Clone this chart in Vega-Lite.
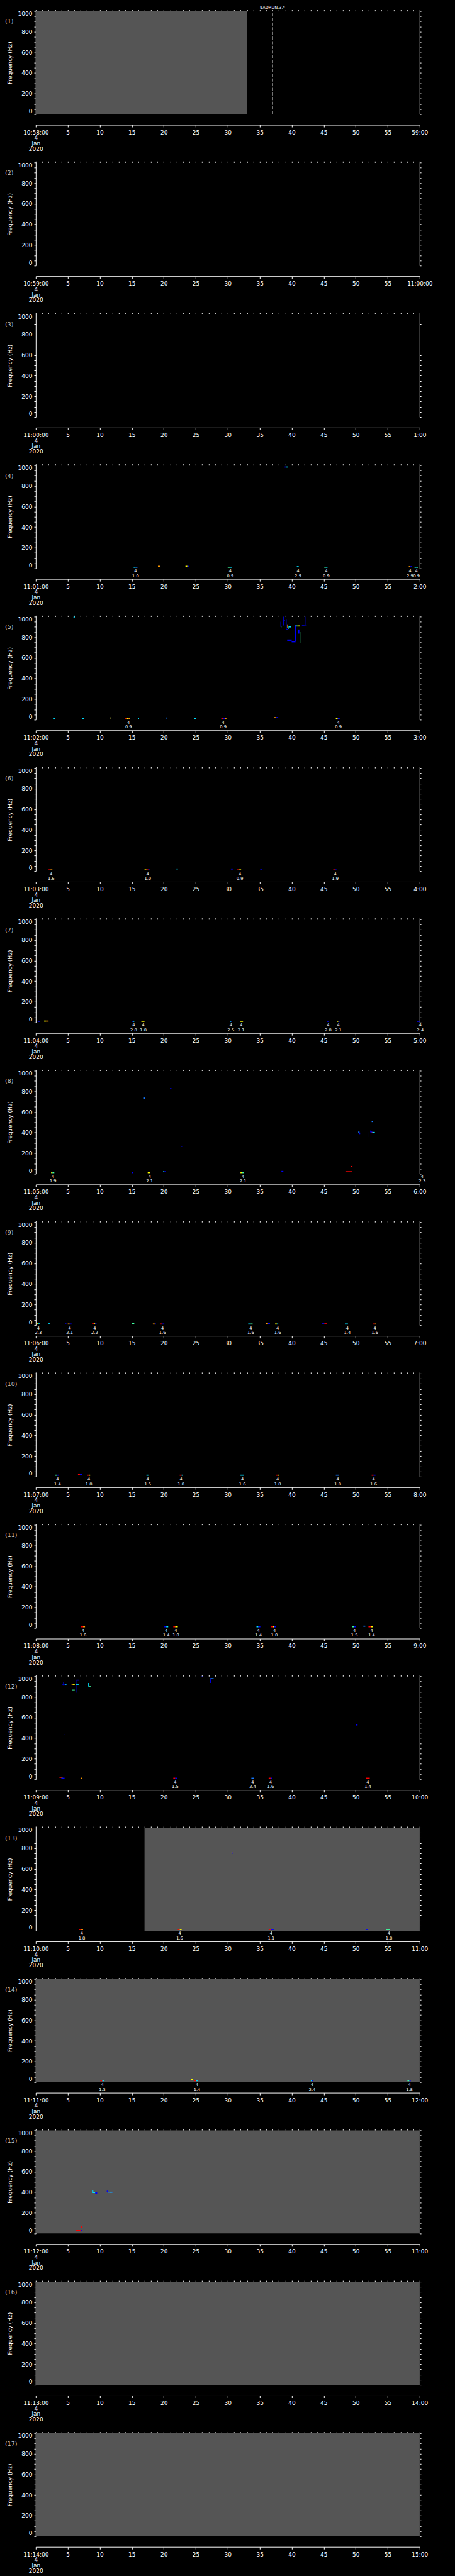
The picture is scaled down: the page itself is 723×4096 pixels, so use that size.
{
"$schema": "https://vega.github.io/schema/vega-lite/v6.json",
"background": "black",
"padding": {"left": 7.8, "top": 8.6, "right": 40, "bottom": 10},
"bounds": "flush",
"spacing": 76.7,
"config": {
 "view": {"stroke": null},
 "axis": {"grid": false, "domainColor": "white", "tickColor": "white", "labelColor": "white", "titleColor": "white", "labelFont": "DejaVu Sans", "titleFont": "DejaVu Sans", "labelFontSize": 9, "titleFontSize": 9, "titleFontWeight": "normal", "labelOverlap": false, "labelBound": false, "domainWidth": 1, "tickWidth": 1},
 "axisBottom": {"offset": 17, "tickSize": 3.5, "labelPadding": 4, "labelLineHeight": 8.7, "labelFlush": false},
 "axisLeft": {"tickSize": 2.8, "labelPadding": 3, "labelFlush": true, "titleX": -36, "titleY": 82, "titleAngle": 270, "titleBaseline": "bottom", "titleAlign": "center"},
 "axisRight": {"tickSize": 2.3, "labels": false},
 "text": {"font": "DejaVu Sans", "color": "white"}
},
"datasets": {
 "panels": [
  {"p": 1, "label": "(1)"}, {"p": 2, "label": "(2)"}, {"p": 3, "label": "(3)"}, {"p": 4, "label": "(4)"}, {"p": 5, "label": "(5)"}, {"p": 6, "label": "(6)"}, {"p": 7, "label": "(7)"}, {"p": 8, "label": "(8)"}, {"p": 9, "label": "(9)"}, {"p": 10, "label": "(10)"}, {"p": 11, "label": "(11)"}, {"p": 12, "label": "(12)"}, {"p": 13, "label": "(13)"}, {"p": 14, "label": "(14)"}, {"p": 15, "label": "(15)"}, {"p": 16, "label": "(16)"}, {"p": 17, "label": "(17)"}
 ],
 "gray": [
  {"p": 1, "t0": 0, "t1": 33, "f0": 0, "f1": 1000},
  {"p": 13, "t0": 17, "t1": 60, "f0": 0, "f1": 1000},
  {"p": 14, "t0": 0, "t1": 60, "f0": 0, "f1": 1000},
  {"p": 15, "t0": 0, "t1": 60, "f0": 0, "f1": 1000},
  {"p": 16, "t0": 0, "t1": 60, "f0": 0, "f1": 1000},
  {"p": 17, "t0": 0, "t1": 60, "f0": 0, "f1": 1000}
 ],
 "markers": [{"p": 1, "t": 37, "label": "$ADRUN,3,*"}],
 "events": [
  {"p": 4, "t": 15.6, "n": "4", "v": "1.0"}, {"p": 4, "t": 30.4, "n": "4", "v": "0.9"}, {"p": 4, "t": 41.0, "n": "4", "v": "2.9"}, {"p": 4, "t": 45.4, "n": "4", "v": "0.9"}, {"p": 4, "t": 58.5, "n": "4", "v": "2.9"}, {"p": 4, "t": 59.5, "n": "4", "v": "0.9"},
  {"p": 5, "t": 14.5, "n": "4", "v": "0.9"}, {"p": 5, "t": 29.3, "n": "4", "v": "0.9"}, {"p": 5, "t": 47.3, "n": "4", "v": "0.9"},
  {"p": 6, "t": 2.4, "n": "4", "v": "1.6"}, {"p": 6, "t": 17.5, "n": "4", "v": "1.0"}, {"p": 6, "t": 31.9, "n": "4", "v": "0.9"}, {"p": 6, "t": 46.8, "n": "4", "v": "1.9"},
  {"p": 7, "t": 15.3, "n": "4", "v": "2.8"}, {"p": 7, "t": 16.8, "n": "4", "v": "1.8"}, {"p": 7, "t": 30.5, "n": "4", "v": "2.5"}, {"p": 7, "t": 32.1, "n": "4", "v": "2.1"}, {"p": 7, "t": 45.7, "n": "4", "v": "2.8"}, {"p": 7, "t": 47.3, "n": "4", "v": "2.1"}, {"p": 7, "t": 60.1, "n": "4", "v": "2.4"},
  {"p": 8, "t": 2.7, "n": "4", "v": "1.9"}, {"p": 8, "t": 17.8, "n": "4", "v": "2.1"}, {"p": 8, "t": 32.4, "n": "4", "v": "2.1"}, {"p": 8, "t": 60.4, "n": "4", "v": "2.3"},
  {"p": 9, "t": 0.4, "n": "4", "v": "2.3"}, {"p": 9, "t": 5.3, "n": "4", "v": "2.1"}, {"p": 9, "t": 9.2, "n": "4", "v": "2.2"}, {"p": 9, "t": 19.8, "n": "4", "v": "1.6"}, {"p": 9, "t": 33.6, "n": "4", "v": "1.6"}, {"p": 9, "t": 37.8, "n": "4", "v": "1.6"}, {"p": 9, "t": 48.7, "n": "4", "v": "1.4"}, {"p": 9, "t": 53.0, "n": "4", "v": "1.6"},
  {"p": 10, "t": 3.4, "n": "4", "v": "1.4"}, {"p": 10, "t": 8.3, "n": "4", "v": "1.8"}, {"p": 10, "t": 17.5, "n": "4", "v": "1.5"}, {"p": 10, "t": 22.7, "n": "4", "v": "1.8"}, {"p": 10, "t": 32.3, "n": "4", "v": "1.6"}, {"p": 10, "t": 37.8, "n": "4", "v": "1.8"}, {"p": 10, "t": 47.2, "n": "4", "v": "1.8"}, {"p": 10, "t": 52.8, "n": "4", "v": "1.6"},
  {"p": 11, "t": 7.4, "n": "4", "v": "1.6"}, {"p": 11, "t": 20.4, "n": "4", "v": "1.4"}, {"p": 11, "t": 21.9, "n": "4", "v": "1.0"}, {"p": 11, "t": 34.8, "n": "4", "v": "1.4"}, {"p": 11, "t": 37.3, "n": "4", "v": "1.0"}, {"p": 11, "t": 49.8, "n": "4", "v": "1.5"}, {"p": 11, "t": 52.5, "n": "4", "v": "1.4"},
  {"p": 12, "t": 21.8, "n": "4", "v": "1.5"}, {"p": 12, "t": 33.9, "n": "4", "v": "2.4"}, {"p": 12, "t": 36.7, "n": "4", "v": "1.6"}, {"p": 12, "t": 51.9, "n": "4", "v": "1.4"},
  {"p": 13, "t": 7.2, "n": "4", "v": "1.8"}, {"p": 13, "t": 22.5, "n": "4", "v": "1.6"}, {"p": 13, "t": 36.8, "n": "4", "v": "1.1"}, {"p": 13, "t": 55.2, "n": "4", "v": "1.8"},
  {"p": 14, "t": 10.4, "n": "4", "v": "1.3"}, {"p": 14, "t": 25.2, "n": "4", "v": "1.4"}, {"p": 14, "t": 43.2, "n": "4", "v": "2.4"}, {"p": 14, "t": 58.4, "n": "4", "v": "1.8"}
 ],
 "blips": [
  {"p":4,"t0":15.3,"t1":15.6,"f0":6,"f1":16,"c":"c"},{"p":4,"t0":15.6,"t1":15.9,"f0":6,"f1":16,"c":"a"},
  {"p":4,"t0":19.1,"t1":19.4,"f0":15,"f1":25,"c":"o"},
  {"p":4,"t0":23.4,"t1":23.7,"f0":15,"f1":25,"c":"y"},{"p":4,"t0":23.7,"t1":23.9,"f0":15,"f1":25,"c":"b"},
  {"p":4,"t0":30.0,"t1":30.35,"f0":6,"f1":16,"c":"g"},{"p":4,"t0":30.35,"t1":30.7,"f0":6,"f1":16,"c":"c"},
  {"p":4,"t0":38.9,"t1":39.1,"f0":978,"f1":988,"c":"b"},{"p":4,"t0":39.1,"t1":39.4,"f0":978,"f1":988,"c":"c"},
  {"p":4,"t0":40.8,"t1":41.1,"f0":11,"f1":21,"c":"c"},
  {"p":4,"t0":45.1,"t1":45.35,"f0":6,"f1":16,"c":"g"},{"p":4,"t0":45.35,"t1":45.6,"f0":6,"f1":16,"c":"c"},
  {"p":4,"t0":58.3,"t1":58.55,"f0":11,"f1":21,"c":"o"},{"p":4,"t0":58.55,"t1":58.8,"f0":11,"f1":21,"c":"b"},
  {"p":4,"t0":59.2,"t1":59.5,"f0":6,"f1":16,"c":"c"},{"p":4,"t0":59.5,"t1":59.8,"f0":6,"f1":16,"c":"g"},

  {"p":5,"t0":5.9,"t1":6.1,"f0":990,"f1":1000,"c":"c"},
  {"p":5,"t0":2.8,"t1":3.0,"f0":6,"f1":16,"c":"c"},
  {"p":5,"t0":7.3,"t1":7.5,"f0":6,"f1":16,"c":"c"},
  {"p":5,"t0":11.6,"t1":11.7,"f0":11,"f1":21,"c":"y"},{"p":5,"t0":11.7,"t1":11.8,"f0":11,"f1":21,"c":"b"},
  {"p":5,"t0":14.0,"t1":14.25,"f0":6,"f1":16,"c":"r"},{"p":5,"t0":14.25,"t1":14.5,"f0":6,"f1":16,"c":"y"},{"p":5,"t0":14.5,"t1":14.7,"f0":6,"f1":16,"c":"o"},
  {"p":5,"t0":16.0,"t1":16.15,"f0":6,"f1":16,"c":"c"},
  {"p":5,"t0":20.3,"t1":20.5,"f0":11,"f1":21,"c":"a"},
  {"p":5,"t0":24.8,"t1":25.05,"f0":6,"f1":16,"c":"c"},
  {"p":5,"t0":29.0,"t1":29.3,"f0":6,"f1":16,"c":"r"},{"p":5,"t0":29.3,"t1":29.55,"f0":6,"f1":16,"c":"b"},{"p":5,"t0":29.55,"t1":29.8,"f0":6,"f1":16,"c":"o"},
  {"p":5,"t0":37.3,"t1":37.6,"f0":15,"f1":25,"c":"o"},{"p":5,"t0":37.6,"t1":37.9,"f0":15,"f1":25,"c":"b"},
  {"p":5,"t0":46.9,"t1":47.2,"f0":6,"f1":16,"c":"y"},{"p":5,"t0":47.2,"t1":47.5,"f0":6,"f1":16,"c":"b"},
  {"p":5,"t0":38.25,"t1":38.35,"f0":900,"f1":950,"c":"b"},
  {"p":5,"t0":38.3,"t1":38.4,"f0":895,"f1":910,"c":"g"},
  {"p":5,"t0":38.7,"t1":38.8,"f0":914,"f1":1000,"c":"b"},
  {"p":5,"t0":38.8,"t1":38.95,"f0":955,"f1":965,"c":"b"},
  {"p":5,"t0":39.1,"t1":39.2,"f0":870,"f1":970,"c":"b"},
  {"p":5,"t0":39.2,"t1":39.35,"f0":870,"f1":880,"c":"b"},
  {"p":5,"t0":39.3,"t1":39.42,"f0":890,"f1":925,"c":"o"},
  {"p":5,"t0":39.5,"t1":39.6,"f0":880,"f1":910,"c":"c"},
  {"p":5,"t0":39.6,"t1":39.9,"f0":895,"f1":905,"c":"c"},
  {"p":5,"t0":39.3,"t1":40.0,"f0":765,"f1":778,"c":"b"},
  {"p":5,"t0":40.0,"t1":40.6,"f0":750,"f1":760,"c":"b"},
  {"p":5,"t0":40.55,"t1":40.65,"f0":760,"f1":920,"c":"b"},
  {"p":5,"t0":40.6,"t1":40.9,"f0":904,"f1":914,"c":"g"},
  {"p":5,"t0":40.9,"t1":41.3,"f0":904,"f1":914,"c":"y"},
  {"p":5,"t0":41.0,"t1":41.2,"f0":835,"f1":875,"c":"b"},
  {"p":5,"t0":41.25,"t1":41.35,"f0":746,"f1":850,"c":"g"},
  {"p":5,"t0":41.6,"t1":42.0,"f0":905,"f1":915,"c":"b"},
  {"p":5,"t0":42.05,"t1":42.15,"f0":905,"f1":1000,"c":"b"},
  {"p":5,"t0":42.1,"t1":42.4,"f0":905,"f1":912,"c":"b"},

  {"p":6,"t0":2.0,"t1":2.3,"f0":6,"f1":16,"c":"r"},{"p":6,"t0":2.3,"t1":2.6,"f0":6,"f1":16,"c":"o"},
  {"p":6,"t0":17.0,"t1":17.3,"f0":6,"f1":16,"c":"y"},{"p":6,"t0":17.3,"t1":17.6,"f0":6,"f1":16,"c":"r"},{"p":6,"t0":17.6,"t1":17.8,"f0":6,"f1":16,"c":"b"},
  {"p":6,"t0":22.0,"t1":22.2,"f0":15,"f1":25,"c":"c"},
  {"p":6,"t0":30.5,"t1":30.8,"f0":15,"f1":25,"c":"b"},
  {"p":6,"t0":31.5,"t1":31.8,"f0":6,"f1":16,"c":"r"},{"p":6,"t0":31.8,"t1":32.1,"f0":6,"f1":16,"c":"y"},
  {"p":6,"t0":35.1,"t1":35.3,"f0":10,"f1":20,"c":"b"},
  {"p":6,"t0":46.5,"t1":46.75,"f0":6,"f1":16,"c":"r"},{"p":6,"t0":46.75,"t1":47.0,"f0":6,"f1":16,"c":"b"},

  {"p":7,"t0":0.3,"t1":0.6,"f0":6,"f1":16,"c":"b"},
  {"p":7,"t0":1.3,"t1":1.6,"f0":8,"f1":18,"c":"y"},{"p":7,"t0":1.6,"t1":2.0,"f0":8,"f1":18,"c":"o"},
  {"p":7,"t0":15.0,"t1":15.2,"f0":6,"f1":16,"c":"b"},{"p":7,"t0":15.2,"t1":15.4,"f0":6,"f1":16,"c":"c"},
  {"p":7,"t0":16.5,"t1":17.0,"f0":6,"f1":16,"c":"y"},
  {"p":7,"t0":30.4,"t1":30.55,"f0":6,"f1":16,"c":"c"},{"p":7,"t0":30.55,"t1":30.7,"f0":6,"f1":16,"c":"b"},
  {"p":7,"t0":31.9,"t1":32.4,"f0":6,"f1":16,"c":"y"},
  {"p":7,"t0":45.5,"t1":45.8,"f0":6,"f1":16,"c":"b"},
  {"p":7,"t0":47.1,"t1":47.3,"f0":6,"f1":16,"c":"y"},{"p":7,"t0":47.3,"t1":47.5,"f0":6,"f1":16,"c":"b"},
  {"p":7,"t0":59.6,"t1":60,"f0":6,"f1":16,"c":"b"},

  {"p":8,"t0":2.4,"t1":2.6,"f0":6,"f1":16,"c":"y"},{"p":8,"t0":2.6,"t1":2.9,"f0":6,"f1":16,"c":"g"},
  {"p":8,"t0":15.0,"t1":15.2,"f0":6,"f1":16,"c":"b"},
  {"p":8,"t0":16.9,"t1":17.1,"f0":725,"f1":740,"c":"a"},
  {"p":8,"t0":17.5,"t1":17.9,"f0":6,"f1":16,"c":"y"},
  {"p":8,"t0":19.9,"t1":20.1,"f0":15,"f1":25,"c":"c"},{"p":8,"t0":20.1,"t1":20.3,"f0":15,"f1":25,"c":"b"},
  {"p":8,"t0":21.0,"t1":21.2,"f0":825,"f1":832,"c":"b"},
  {"p":8,"t0":22.7,"t1":22.9,"f0":262,"f1":270,"c":"b"},
  {"p":8,"t0":32.0,"t1":32.25,"f0":6,"f1":16,"c":"y"},{"p":8,"t0":32.25,"t1":32.5,"f0":6,"f1":16,"c":"g"},
  {"p":8,"t0":38.4,"t1":38.7,"f0":20,"f1":28,"c":"b"},
  {"p":8,"t0":48.5,"t1":49.4,"f0":15,"f1":25,"c":"r"},
  {"p":8,"t0":49.3,"t1":49.5,"f0":66,"f1":76,"c":"r"},
  {"p":8,"t0":50.4,"t1":50.6,"f0":395,"f1":410,"c":"a"},
  {"p":8,"t0":50.55,"t1":50.7,"f0":385,"f1":400,"c":"b"},
  {"p":8,"t0":52.05,"t1":52.15,"f0":356,"f1":405,"c":"b"},
  {"p":8,"t0":52.3,"t1":52.4,"f0":405,"f1":420,"c":"b"},
  {"p":8,"t0":52.3,"t1":52.6,"f0":400,"f1":410,"c":"b"},
  {"p":8,"t0":52.5,"t1":52.7,"f0":395,"f1":403,"c":"r"},
  {"p":8,"t0":52.6,"t1":53.0,"f0":398,"f1":406,"c":"c"},
  {"p":8,"t0":52.5,"t1":52.7,"f0":502,"f1":510,"c":"a"},

  {"p":9,"t0":0.1,"t1":0.35,"f0":8,"f1":18,"c":"y"},{"p":9,"t0":0.35,"t1":0.6,"f0":8,"f1":18,"c":"c"},
  {"p":9,"t0":1.9,"t1":2.2,"f0":8,"f1":18,"c":"c"},
  {"p":9,"t0":4.6,"t1":4.8,"f0":15,"f1":25,"c":"b"},
  {"p":9,"t0":5.0,"t1":5.3,"f0":6,"f1":16,"c":"o"},{"p":9,"t0":5.3,"t1":5.6,"f0":6,"f1":16,"c":"b"},
  {"p":9,"t0":8.8,"t1":9.1,"f0":8,"f1":18,"c":"r"},{"p":9,"t0":9.1,"t1":9.3,"f0":8,"f1":18,"c":"y"},{"p":9,"t0":9.3,"t1":9.5,"f0":8,"f1":18,"c":"b"},
  {"p":9,"t0":15.0,"t1":15.4,"f0":12,"f1":22,"c":"g"},
  {"p":9,"t0":18.3,"t1":18.6,"f0":6,"f1":16,"c":"o"},{"p":9,"t0":18.6,"t1":18.8,"f0":6,"f1":16,"c":"b"},
  {"p":9,"t0":19.5,"t1":19.8,"f0":6,"f1":16,"c":"r"},{"p":9,"t0":19.8,"t1":20.1,"f0":6,"f1":16,"c":"b"},
  {"p":9,"t0":33.2,"t1":33.6,"f0":6,"f1":16,"c":"c"},{"p":9,"t0":33.6,"t1":33.9,"f0":6,"f1":16,"c":"g"},
  {"p":9,"t0":36.0,"t1":36.3,"f0":12,"f1":22,"c":"o"},{"p":9,"t0":36.3,"t1":36.6,"f0":12,"f1":22,"c":"b"},
  {"p":9,"t0":37.4,"t1":37.7,"f0":6,"f1":16,"c":"y"},{"p":9,"t0":37.7,"t1":37.9,"f0":6,"f1":16,"c":"c"},
  {"p":9,"t0":44.7,"t1":45.1,"f0":14,"f1":24,"c":"b"},{"p":9,"t0":45.1,"t1":45.5,"f0":14,"f1":24,"c":"r"},
  {"p":9,"t0":48.4,"t1":48.8,"f0":6,"f1":16,"c":"c"},
  {"p":9,"t0":52.7,"t1":53.0,"f0":6,"f1":16,"c":"r"},{"p":9,"t0":53.0,"t1":53.2,"f0":6,"f1":16,"c":"o"},

  {"p":10,"t0":3.0,"t1":3.3,"f0":8,"f1":18,"c":"g"},{"p":10,"t0":3.3,"t1":3.6,"f0":8,"f1":18,"c":"b"},
  {"p":10,"t0":6.6,"t1":6.9,"f0":15,"f1":25,"c":"r"},{"p":10,"t0":6.9,"t1":7.2,"f0":15,"f1":25,"c":"b"},
  {"p":10,"t0":8.0,"t1":8.3,"f0":8,"f1":18,"c":"r"},{"p":10,"t0":8.3,"t1":8.5,"f0":8,"f1":18,"c":"y"},
  {"p":10,"t0":17.3,"t1":17.6,"f0":8,"f1":18,"c":"c"},
  {"p":10,"t0":22.5,"t1":22.8,"f0":8,"f1":18,"c":"r"},{"p":10,"t0":22.8,"t1":23.0,"f0":8,"f1":18,"c":"c"},
  {"p":10,"t0":32.0,"t1":32.5,"f0":8,"f1":18,"c":"c"},
  {"p":10,"t0":37.6,"t1":37.8,"f0":8,"f1":18,"c":"r"},{"p":10,"t0":37.8,"t1":38.0,"f0":8,"f1":18,"c":"y"},
  {"p":10,"t0":46.9,"t1":47.4,"f0":8,"f1":18,"c":"a"},
  {"p":10,"t0":52.5,"t1":52.8,"f0":8,"f1":18,"c":"r"},{"p":10,"t0":52.8,"t1":53.1,"f0":8,"f1":18,"c":"b"},

  {"p":11,"t0":7.1,"t1":7.4,"f0":6,"f1":16,"c":"r"},{"p":11,"t0":7.4,"t1":7.7,"f0":6,"f1":16,"c":"o"},
  {"p":11,"t0":20.1,"t1":20.4,"f0":6,"f1":16,"c":"b"},{"p":11,"t0":20.4,"t1":20.7,"f0":6,"f1":16,"c":"c"},
  {"p":11,"t0":21.5,"t1":21.8,"f0":6,"f1":16,"c":"r"},{"p":11,"t0":21.8,"t1":22.2,"f0":6,"f1":16,"c":"y"},
  {"p":11,"t0":34.5,"t1":34.8,"f0":6,"f1":16,"c":"c"},{"p":11,"t0":34.8,"t1":35.1,"f0":6,"f1":16,"c":"b"},
  {"p":11,"t0":36.8,"t1":37.1,"f0":6,"f1":16,"c":"r"},{"p":11,"t0":37.1,"t1":37.3,"f0":6,"f1":16,"c":"y"},{"p":11,"t0":37.3,"t1":37.5,"f0":6,"f1":16,"c":"b"},
  {"p":11,"t0":49.5,"t1":49.75,"f0":6,"f1":16,"c":"g"},{"p":11,"t0":49.75,"t1":50.0,"f0":6,"f1":16,"c":"b"},
  {"p":11,"t0":51.2,"t1":51.5,"f0":12,"f1":22,"c":"a"},
  {"p":11,"t0":52.0,"t1":52.4,"f0":6,"f1":16,"c":"r"},{"p":11,"t0":52.4,"t1":52.7,"f0":6,"f1":16,"c":"y"},

  {"p":12,"t0":3.7,"t1":4.0,"f0":15,"f1":25,"c":"r"},{"p":12,"t0":4.0,"t1":4.2,"f0":15,"f1":25,"c":"o"},
  {"p":12,"t0":4.0,"t1":4.5,"f0":6,"f1":16,"c":"b"},
  {"p":12,"t0":7.0,"t1":7.2,"f0":6,"f1":16,"c":"o"},
  {"p":12,"t0":21.5,"t1":21.8,"f0":6,"f1":16,"c":"r"},{"p":12,"t0":21.8,"t1":22.1,"f0":6,"f1":16,"c":"b"},
  {"p":12,"t0":33.7,"t1":34.1,"f0":6,"f1":16,"c":"a"},
  {"p":12,"t0":36.4,"t1":36.7,"f0":6,"f1":16,"c":"r"},{"p":12,"t0":36.7,"t1":37.0,"f0":6,"f1":16,"c":"b"},
  {"p":12,"t0":51.6,"t1":52.2,"f0":6,"f1":16,"c":"r"},
  {"p":12,"t0":4.4,"t1":4.5,"f0":430,"f1":436,"c":"b"},
  {"p":12,"t0":50.0,"t1":50.3,"f0":522,"f1":533,"c":"b"},
  {"p":12,"t0":25.9,"t1":26.1,"f0":990,"f1":998,"c":"b"},
  {"p":12,"t0":27.25,"t1":27.35,"f0":934,"f1":979,"c":"b"},
  {"p":12,"t0":27.3,"t1":27.8,"f0":975,"f1":982,"c":"a"},
  {"p":12,"t0":4.1,"t1":4.8,"f0":910,"f1":920,"c":"b"},
  {"p":12,"t0":4.3,"t1":4.4,"f0":909,"f1":941,"c":"b"},
  {"p":12,"t0":4.6,"t1":4.8,"f0":918,"f1":924,"c":"c"},
  {"p":12,"t0":5.6,"t1":5.8,"f0":917,"f1":924,"c":"o"},{"p":12,"t0":5.8,"t1":6.1,"f0":917,"f1":924,"c":"y"},
  {"p":12,"t0":5.7,"t1":6.1,"f0":864,"f1":870,"c":"g"},
  {"p":12,"t0":6.25,"t1":6.35,"f0":840,"f1":957,"c":"b"},
  {"p":12,"t0":6.35,"t1":6.7,"f0":957,"f1":966,"c":"b"},
  {"p":12,"t0":6.3,"t1":6.7,"f0":917,"f1":924,"c":"c"},
  {"p":12,"t0":8.2,"t1":8.3,"f0":900,"f1":935,"c":"c"},
  {"p":12,"t0":8.3,"t1":8.6,"f0":897,"f1":903,"c":"g"},

  {"p":13,"t0":6.8,"t1":7.1,"f0":6,"f1":16,"c":"r"},{"p":13,"t0":7.1,"t1":7.4,"f0":6,"f1":16,"c":"o"},
  {"p":13,"t0":22.2,"t1":22.5,"f0":6,"f1":16,"c":"r"},{"p":13,"t0":22.5,"t1":22.8,"f0":6,"f1":16,"c":"y"},
  {"p":13,"t0":36.4,"t1":36.8,"f0":6,"f1":16,"c":"r"},{"p":13,"t0":36.8,"t1":37.2,"f0":6,"f1":16,"c":"b"},
  {"p":13,"t0":51.6,"t1":51.9,"f0":6,"f1":16,"c":"b"},
  {"p":13,"t0":54.8,"t1":55.4,"f0":6,"f1":16,"c":"g"},
  {"p":13,"t0":30.6,"t1":30.75,"f0":758,"f1":768,"c":"o"},{"p":13,"t0":30.7,"t1":30.9,"f0":748,"f1":758,"c":"b"},

  {"p":14,"t0":10.1,"t1":10.4,"f0":8,"f1":18,"c":"r"},{"p":14,"t0":10.4,"t1":10.7,"f0":8,"f1":18,"c":"c"},
  {"p":14,"t0":24.3,"t1":24.6,"f0":21,"f1":31,"c":"y"},
  {"p":14,"t0":24.8,"t1":25.1,"f0":8,"f1":18,"c":"r"},{"p":14,"t0":25.1,"t1":25.4,"f0":8,"f1":18,"c":"c"},
  {"p":14,"t0":43.0,"t1":43.2,"f0":8,"f1":18,"c":"c"},{"p":14,"t0":43.2,"t1":43.4,"f0":8,"f1":18,"c":"b"},
  {"p":14,"t0":58.1,"t1":58.4,"f0":8,"f1":18,"c":"g"},{"p":14,"t0":58.4,"t1":58.6,"f0":8,"f1":18,"c":"b"},

  {"p":15,"t0":6.3,"t1":7.0,"f0":22,"f1":32,"c":"r"},{"p":15,"t0":7.0,"t1":7.3,"f0":22,"f1":32,"c":"b"},
  {"p":15,"t0":7.1,"t1":7.3,"f0":56,"f1":70,"c":"r"},
  {"p":15,"t0":8.8,"t1":9.0,"f0":400,"f1":418,"c":"c"},
  {"p":15,"t0":8.8,"t1":9.3,"f0":392,"f1":400,"c":"c"},
  {"p":15,"t0":9.3,"t1":9.6,"f0":385,"f1":400,"c":"b"},
  {"p":15,"t0":11.1,"t1":11.3,"f0":398,"f1":415,"c":"b"},
  {"p":15,"t0":11.3,"t1":12.0,"f0":395,"f1":405,"c":"a"},
  {"p":15,"t0":11.6,"t1":11.9,"f0":397,"f1":403,"c":"g"}
 ]
},
"vconcat": [
 {"width": 610, "height": 163.9, "resolve": {"axis": {"x": "independent", "y": "independent"}},
  "layer": [
   {"data": {"name": "gray"}, "transform": [{"filter": "datum.p == 1"}], "mark": {"type": "rect", "color": "#555555"},
    "encoding": {"x": {"field": "t0", "type": "quantitative", "scale": {"domain": [0, 60]}, "axis": {"title": null, "values": [0,5,10,15,20,25,30,35,40,45,50,55,60], "labelExpr": "datum.value == 0 ? ['10:58:00','4','Jan','2020'] : datum.value == 60 ? '59:00' : datum.label"}}, "x2": {"field": "t1"},
     "y": {"field": "f0", "type": "quantitative", "scale": {"domain": [0, 1000]}, "axis": {"title": "Frequency (Hz)", "values": [0,50,100,150,200,250,300,350,400,450,500,550,600,650,700,750,800,850,900,950,1000], "format": "d", "labelExpr": "datum.value % 200 == 0 ? datum.label : ''"}}, "y2": {"field": "f1"}}},
   {"data": {"name": "blips"}, "transform": [{"filter": "datum.p == 1"}], "mark": {"type": "rect"},
    "encoding": {"x": {"field": "t0", "type": "quantitative", "axis": {"title": null, "values": [0,1,2,3,4,5,6,7,8,9,10,11,12,13,14,15,16,17,18,19,20,21,22,23,24,25,26,27,28,29,30,31,32,33,34,35,36,37,38,39,40,41,42,43,44,45,46,47,48,49,50,51,52,53,54,55,56,57,58,59,60], "labels": false, "tickSize": 2, "domain": false}}, "x2": {"field": "t1"},
     "y": {"field": "f0", "type": "quantitative", "axis": {"orient": "right", "title": null, "values": [0,50,100,150,200,250,300,350,400,450,500,550,600,650,700,750,800,850,900,950,1000]}}, "y2": {"field": "f1"},
     "color": {"field": "c", "type": "nominal", "legend": null, "scale": {"domain": ["b","a","c","g","y","o","r"], "range": ["#0000ff","#1478ff","#00e0ff","#40ffa0","#ffff00","#ff9900","#ff0000"]}}}},
   {"data": {"name": "panels"}, "transform": [{"filter": "datum.p == 1"}], "mark": {"type": "text", "align": "left", "baseline": "middle", "fontSize": 9.5, "color": "#c0c0c0"},
    "encoding": {"x": {"datum": -4.8, "type": "quantitative", "axis": null}, "y": {"datum": 897, "type": "quantitative", "axis": null}, "text": {"field": "label"}}},
   {"data": {"name": "markers"}, "transform": [{"filter": "datum.p == 1"}], "mark": {"type": "rule", "color": "white", "strokeWidth": 1, "strokeDash": [5, 2.4]},
    "encoding": {"x": {"field": "t", "type": "quantitative", "axis": null}, "y": {"datum": 0, "type": "quantitative", "axis": null}, "y2": {"datum": 990}}},
   {"data": {"name": "markers"}, "transform": [{"filter": "datum.p == 1"}], "mark": {"type": "text", "baseline": "alphabetic", "dy": -3.3, "fontSize": 6.6, "color": "white"},
    "encoding": {"x": {"field": "t", "type": "quantitative", "axis": null}, "y": {"datum": 1000, "type": "quantitative", "axis": null}, "text": {"field": "label"}}}
  ]},
 {"width": 610, "height": 163.9, "resolve": {"axis": {"x": "independent", "y": "independent"}},
  "layer": [
   {"data": {"name": "gray"}, "transform": [{"filter": "datum.p == 2"}], "mark": {"type": "rect", "color": "#555555"},
    "encoding": {"x": {"field": "t0", "type": "quantitative", "scale": {"domain": [0, 60]}, "axis": {"title": null, "values": [0,5,10,15,20,25,30,35,40,45,50,55,60], "labelExpr": "datum.value == 0 ? ['10:59:00','4','Jan','2020'] : datum.value == 60 ? '11:00:00' : datum.label"}}, "x2": {"field": "t1"},
     "y": {"field": "f0", "type": "quantitative", "scale": {"domain": [0, 1000]}, "axis": {"title": "Frequency (Hz)", "values": [0,50,100,150,200,250,300,350,400,450,500,550,600,650,700,750,800,850,900,950,1000], "format": "d", "labelExpr": "datum.value % 200 == 0 ? datum.label : ''"}}, "y2": {"field": "f1"}}},
   {"data": {"name": "blips"}, "transform": [{"filter": "datum.p == 2"}], "mark": {"type": "rect"},
    "encoding": {"x": {"field": "t0", "type": "quantitative", "axis": {"title": null, "values": [0,1,2,3,4,5,6,7,8,9,10,11,12,13,14,15,16,17,18,19,20,21,22,23,24,25,26,27,28,29,30,31,32,33,34,35,36,37,38,39,40,41,42,43,44,45,46,47,48,49,50,51,52,53,54,55,56,57,58,59,60], "labels": false, "tickSize": 2, "domain": false}}, "x2": {"field": "t1"},
     "y": {"field": "f0", "type": "quantitative", "axis": {"orient": "right", "title": null, "values": [0,50,100,150,200,250,300,350,400,450,500,550,600,650,700,750,800,850,900,950,1000]}}, "y2": {"field": "f1"},
     "color": {"field": "c", "type": "nominal", "legend": null, "scale": {"domain": ["b","a","c","g","y","o","r"], "range": ["#0000ff","#1478ff","#00e0ff","#40ffa0","#ffff00","#ff9900","#ff0000"]}}}},
   {"data": {"name": "panels"}, "transform": [{"filter": "datum.p == 2"}], "mark": {"type": "text", "align": "left", "baseline": "middle", "fontSize": 9.5, "color": "#c0c0c0"},
    "encoding": {"x": {"datum": -4.8, "type": "quantitative", "axis": null}, "y": {"datum": 897, "type": "quantitative", "axis": null}, "text": {"field": "label"}}}
  ]},
 {"width": 610, "height": 163.9, "resolve": {"axis": {"x": "independent", "y": "independent"}},
  "layer": [
   {"data": {"name": "gray"}, "transform": [{"filter": "datum.p == 3"}], "mark": {"type": "rect", "color": "#555555"},
    "encoding": {"x": {"field": "t0", "type": "quantitative", "scale": {"domain": [0, 60]}, "axis": {"title": null, "values": [0,5,10,15,20,25,30,35,40,45,50,55,60], "labelExpr": "datum.value == 0 ? ['11:00:00','4','Jan','2020'] : datum.value == 60 ? '1:00' : datum.label"}}, "x2": {"field": "t1"},
     "y": {"field": "f0", "type": "quantitative", "scale": {"domain": [0, 1000]}, "axis": {"title": "Frequency (Hz)", "values": [0,50,100,150,200,250,300,350,400,450,500,550,600,650,700,750,800,850,900,950,1000], "format": "d", "labelExpr": "datum.value % 200 == 0 ? datum.label : ''"}}, "y2": {"field": "f1"}}},
   {"data": {"name": "blips"}, "transform": [{"filter": "datum.p == 3"}], "mark": {"type": "rect"},
    "encoding": {"x": {"field": "t0", "type": "quantitative", "axis": {"title": null, "values": [0,1,2,3,4,5,6,7,8,9,10,11,12,13,14,15,16,17,18,19,20,21,22,23,24,25,26,27,28,29,30,31,32,33,34,35,36,37,38,39,40,41,42,43,44,45,46,47,48,49,50,51,52,53,54,55,56,57,58,59,60], "labels": false, "tickSize": 2, "domain": false}}, "x2": {"field": "t1"},
     "y": {"field": "f0", "type": "quantitative", "axis": {"orient": "right", "title": null, "values": [0,50,100,150,200,250,300,350,400,450,500,550,600,650,700,750,800,850,900,950,1000]}}, "y2": {"field": "f1"},
     "color": {"field": "c", "type": "nominal", "legend": null, "scale": {"domain": ["b","a","c","g","y","o","r"], "range": ["#0000ff","#1478ff","#00e0ff","#40ffa0","#ffff00","#ff9900","#ff0000"]}}}},
   {"data": {"name": "panels"}, "transform": [{"filter": "datum.p == 3"}], "mark": {"type": "text", "align": "left", "baseline": "middle", "fontSize": 9.5, "color": "#c0c0c0"},
    "encoding": {"x": {"datum": -4.8, "type": "quantitative", "axis": null}, "y": {"datum": 897, "type": "quantitative", "axis": null}, "text": {"field": "label"}}}
  ]},
 {"width": 610, "height": 163.9, "resolve": {"axis": {"x": "independent", "y": "independent"}},
  "layer": [
   {"data": {"name": "gray"}, "transform": [{"filter": "datum.p == 4"}], "mark": {"type": "rect", "color": "#555555"},
    "encoding": {"x": {"field": "t0", "type": "quantitative", "scale": {"domain": [0, 60]}, "axis": {"title": null, "values": [0,5,10,15,20,25,30,35,40,45,50,55,60], "labelExpr": "datum.value == 0 ? ['11:01:00','4','Jan','2020'] : datum.value == 60 ? '2:00' : datum.label"}}, "x2": {"field": "t1"},
     "y": {"field": "f0", "type": "quantitative", "scale": {"domain": [0, 1000]}, "axis": {"title": "Frequency (Hz)", "values": [0,50,100,150,200,250,300,350,400,450,500,550,600,650,700,750,800,850,900,950,1000], "format": "d", "labelExpr": "datum.value % 200 == 0 ? datum.label : ''"}}, "y2": {"field": "f1"}}},
   {"data": {"name": "blips"}, "transform": [{"filter": "datum.p == 4"}], "mark": {"type": "rect"},
    "encoding": {"x": {"field": "t0", "type": "quantitative", "axis": {"title": null, "values": [0,1,2,3,4,5,6,7,8,9,10,11,12,13,14,15,16,17,18,19,20,21,22,23,24,25,26,27,28,29,30,31,32,33,34,35,36,37,38,39,40,41,42,43,44,45,46,47,48,49,50,51,52,53,54,55,56,57,58,59,60], "labels": false, "tickSize": 2, "domain": false}}, "x2": {"field": "t1"},
     "y": {"field": "f0", "type": "quantitative", "axis": {"orient": "right", "title": null, "values": [0,50,100,150,200,250,300,350,400,450,500,550,600,650,700,750,800,850,900,950,1000]}}, "y2": {"field": "f1"},
     "color": {"field": "c", "type": "nominal", "legend": null, "scale": {"domain": ["b","a","c","g","y","o","r"], "range": ["#0000ff","#1478ff","#00e0ff","#40ffa0","#ffff00","#ff9900","#ff0000"]}}}},
   {"data": {"name": "panels"}, "transform": [{"filter": "datum.p == 4"}], "mark": {"type": "text", "align": "left", "baseline": "middle", "fontSize": 9.5, "color": "#c0c0c0"},
    "encoding": {"x": {"datum": -4.8, "type": "quantitative", "axis": null}, "y": {"datum": 897, "type": "quantitative", "axis": null}, "text": {"field": "label"}}},
   {"data": {"name": "events"}, "transform": [{"filter": "datum.p == 4"}], "mark": {"type": "text", "baseline": "middle", "dy": 4.6, "fontSize": 6.7, "color": "white"},
    "encoding": {"x": {"field": "t", "type": "quantitative", "axis": null}, "y": {"datum": 0, "type": "quantitative", "axis": null}, "text": {"field": "n"}}},
   {"data": {"name": "events"}, "transform": [{"filter": "datum.p == 4"}], "mark": {"type": "text", "baseline": "middle", "dy": 12, "fontSize": 6.7, "color": "white"},
    "encoding": {"x": {"field": "t", "type": "quantitative", "axis": null}, "y": {"datum": 0, "type": "quantitative", "axis": null}, "text": {"field": "v"}}}
  ]},
 {"width": 610, "height": 163.9, "resolve": {"axis": {"x": "independent", "y": "independent"}},
  "layer": [
   {"data": {"name": "gray"}, "transform": [{"filter": "datum.p == 5"}], "mark": {"type": "rect", "color": "#555555"},
    "encoding": {"x": {"field": "t0", "type": "quantitative", "scale": {"domain": [0, 60]}, "axis": {"title": null, "values": [0,5,10,15,20,25,30,35,40,45,50,55,60], "labelExpr": "datum.value == 0 ? ['11:02:00','4','Jan','2020'] : datum.value == 60 ? '3:00' : datum.label"}}, "x2": {"field": "t1"},
     "y": {"field": "f0", "type": "quantitative", "scale": {"domain": [0, 1000]}, "axis": {"title": "Frequency (Hz)", "values": [0,50,100,150,200,250,300,350,400,450,500,550,600,650,700,750,800,850,900,950,1000], "format": "d", "labelExpr": "datum.value % 200 == 0 ? datum.label : ''"}}, "y2": {"field": "f1"}}},
   {"data": {"name": "blips"}, "transform": [{"filter": "datum.p == 5"}], "mark": {"type": "rect"},
    "encoding": {"x": {"field": "t0", "type": "quantitative", "axis": {"title": null, "values": [0,1,2,3,4,5,6,7,8,9,10,11,12,13,14,15,16,17,18,19,20,21,22,23,24,25,26,27,28,29,30,31,32,33,34,35,36,37,38,39,40,41,42,43,44,45,46,47,48,49,50,51,52,53,54,55,56,57,58,59,60], "labels": false, "tickSize": 2, "domain": false}}, "x2": {"field": "t1"},
     "y": {"field": "f0", "type": "quantitative", "axis": {"orient": "right", "title": null, "values": [0,50,100,150,200,250,300,350,400,450,500,550,600,650,700,750,800,850,900,950,1000]}}, "y2": {"field": "f1"},
     "color": {"field": "c", "type": "nominal", "legend": null, "scale": {"domain": ["b","a","c","g","y","o","r"], "range": ["#0000ff","#1478ff","#00e0ff","#40ffa0","#ffff00","#ff9900","#ff0000"]}}}},
   {"data": {"name": "panels"}, "transform": [{"filter": "datum.p == 5"}], "mark": {"type": "text", "align": "left", "baseline": "middle", "fontSize": 9.5, "color": "#c0c0c0"},
    "encoding": {"x": {"datum": -4.8, "type": "quantitative", "axis": null}, "y": {"datum": 897, "type": "quantitative", "axis": null}, "text": {"field": "label"}}},
   {"data": {"name": "events"}, "transform": [{"filter": "datum.p == 5"}], "mark": {"type": "text", "baseline": "middle", "dy": 4.6, "fontSize": 6.7, "color": "white"},
    "encoding": {"x": {"field": "t", "type": "quantitative", "axis": null}, "y": {"datum": 0, "type": "quantitative", "axis": null}, "text": {"field": "n"}}},
   {"data": {"name": "events"}, "transform": [{"filter": "datum.p == 5"}], "mark": {"type": "text", "baseline": "middle", "dy": 12, "fontSize": 6.7, "color": "white"},
    "encoding": {"x": {"field": "t", "type": "quantitative", "axis": null}, "y": {"datum": 0, "type": "quantitative", "axis": null}, "text": {"field": "v"}}}
  ]},
 {"width": 610, "height": 163.9, "resolve": {"axis": {"x": "independent", "y": "independent"}},
  "layer": [
   {"data": {"name": "gray"}, "transform": [{"filter": "datum.p == 6"}], "mark": {"type": "rect", "color": "#555555"},
    "encoding": {"x": {"field": "t0", "type": "quantitative", "scale": {"domain": [0, 60]}, "axis": {"title": null, "values": [0,5,10,15,20,25,30,35,40,45,50,55,60], "labelExpr": "datum.value == 0 ? ['11:03:00','4','Jan','2020'] : datum.value == 60 ? '4:00' : datum.label"}}, "x2": {"field": "t1"},
     "y": {"field": "f0", "type": "quantitative", "scale": {"domain": [0, 1000]}, "axis": {"title": "Frequency (Hz)", "values": [0,50,100,150,200,250,300,350,400,450,500,550,600,650,700,750,800,850,900,950,1000], "format": "d", "labelExpr": "datum.value % 200 == 0 ? datum.label : ''"}}, "y2": {"field": "f1"}}},
   {"data": {"name": "blips"}, "transform": [{"filter": "datum.p == 6"}], "mark": {"type": "rect"},
    "encoding": {"x": {"field": "t0", "type": "quantitative", "axis": {"title": null, "values": [0,1,2,3,4,5,6,7,8,9,10,11,12,13,14,15,16,17,18,19,20,21,22,23,24,25,26,27,28,29,30,31,32,33,34,35,36,37,38,39,40,41,42,43,44,45,46,47,48,49,50,51,52,53,54,55,56,57,58,59,60], "labels": false, "tickSize": 2, "domain": false}}, "x2": {"field": "t1"},
     "y": {"field": "f0", "type": "quantitative", "axis": {"orient": "right", "title": null, "values": [0,50,100,150,200,250,300,350,400,450,500,550,600,650,700,750,800,850,900,950,1000]}}, "y2": {"field": "f1"},
     "color": {"field": "c", "type": "nominal", "legend": null, "scale": {"domain": ["b","a","c","g","y","o","r"], "range": ["#0000ff","#1478ff","#00e0ff","#40ffa0","#ffff00","#ff9900","#ff0000"]}}}},
   {"data": {"name": "panels"}, "transform": [{"filter": "datum.p == 6"}], "mark": {"type": "text", "align": "left", "baseline": "middle", "fontSize": 9.5, "color": "#c0c0c0"},
    "encoding": {"x": {"datum": -4.8, "type": "quantitative", "axis": null}, "y": {"datum": 897, "type": "quantitative", "axis": null}, "text": {"field": "label"}}},
   {"data": {"name": "events"}, "transform": [{"filter": "datum.p == 6"}], "mark": {"type": "text", "baseline": "middle", "dy": 4.6, "fontSize": 6.7, "color": "white"},
    "encoding": {"x": {"field": "t", "type": "quantitative", "axis": null}, "y": {"datum": 0, "type": "quantitative", "axis": null}, "text": {"field": "n"}}},
   {"data": {"name": "events"}, "transform": [{"filter": "datum.p == 6"}], "mark": {"type": "text", "baseline": "middle", "dy": 12, "fontSize": 6.7, "color": "white"},
    "encoding": {"x": {"field": "t", "type": "quantitative", "axis": null}, "y": {"datum": 0, "type": "quantitative", "axis": null}, "text": {"field": "v"}}}
  ]},
 {"width": 610, "height": 163.9, "resolve": {"axis": {"x": "independent", "y": "independent"}},
  "layer": [
   {"data": {"name": "gray"}, "transform": [{"filter": "datum.p == 7"}], "mark": {"type": "rect", "color": "#555555"},
    "encoding": {"x": {"field": "t0", "type": "quantitative", "scale": {"domain": [0, 60]}, "axis": {"title": null, "values": [0,5,10,15,20,25,30,35,40,45,50,55,60], "labelExpr": "datum.value == 0 ? ['11:04:00','4','Jan','2020'] : datum.value == 60 ? '5:00' : datum.label"}}, "x2": {"field": "t1"},
     "y": {"field": "f0", "type": "quantitative", "scale": {"domain": [0, 1000]}, "axis": {"title": "Frequency (Hz)", "values": [0,50,100,150,200,250,300,350,400,450,500,550,600,650,700,750,800,850,900,950,1000], "format": "d", "labelExpr": "datum.value % 200 == 0 ? datum.label : ''"}}, "y2": {"field": "f1"}}},
   {"data": {"name": "blips"}, "transform": [{"filter": "datum.p == 7"}], "mark": {"type": "rect"},
    "encoding": {"x": {"field": "t0", "type": "quantitative", "axis": {"title": null, "values": [0,1,2,3,4,5,6,7,8,9,10,11,12,13,14,15,16,17,18,19,20,21,22,23,24,25,26,27,28,29,30,31,32,33,34,35,36,37,38,39,40,41,42,43,44,45,46,47,48,49,50,51,52,53,54,55,56,57,58,59,60], "labels": false, "tickSize": 2, "domain": false}}, "x2": {"field": "t1"},
     "y": {"field": "f0", "type": "quantitative", "axis": {"orient": "right", "title": null, "values": [0,50,100,150,200,250,300,350,400,450,500,550,600,650,700,750,800,850,900,950,1000]}}, "y2": {"field": "f1"},
     "color": {"field": "c", "type": "nominal", "legend": null, "scale": {"domain": ["b","a","c","g","y","o","r"], "range": ["#0000ff","#1478ff","#00e0ff","#40ffa0","#ffff00","#ff9900","#ff0000"]}}}},
   {"data": {"name": "panels"}, "transform": [{"filter": "datum.p == 7"}], "mark": {"type": "text", "align": "left", "baseline": "middle", "fontSize": 9.5, "color": "#c0c0c0"},
    "encoding": {"x": {"datum": -4.8, "type": "quantitative", "axis": null}, "y": {"datum": 897, "type": "quantitative", "axis": null}, "text": {"field": "label"}}},
   {"data": {"name": "events"}, "transform": [{"filter": "datum.p == 7"}], "mark": {"type": "text", "baseline": "middle", "dy": 4.6, "fontSize": 6.7, "color": "white"},
    "encoding": {"x": {"field": "t", "type": "quantitative", "axis": null}, "y": {"datum": 0, "type": "quantitative", "axis": null}, "text": {"field": "n"}}},
   {"data": {"name": "events"}, "transform": [{"filter": "datum.p == 7"}], "mark": {"type": "text", "baseline": "middle", "dy": 12, "fontSize": 6.7, "color": "white"},
    "encoding": {"x": {"field": "t", "type": "quantitative", "axis": null}, "y": {"datum": 0, "type": "quantitative", "axis": null}, "text": {"field": "v"}}}
  ]},
 {"width": 610, "height": 163.9, "resolve": {"axis": {"x": "independent", "y": "independent"}},
  "layer": [
   {"data": {"name": "gray"}, "transform": [{"filter": "datum.p == 8"}], "mark": {"type": "rect", "color": "#555555"},
    "encoding": {"x": {"field": "t0", "type": "quantitative", "scale": {"domain": [0, 60]}, "axis": {"title": null, "values": [0,5,10,15,20,25,30,35,40,45,50,55,60], "labelExpr": "datum.value == 0 ? ['11:05:00','4','Jan','2020'] : datum.value == 60 ? '6:00' : datum.label"}}, "x2": {"field": "t1"},
     "y": {"field": "f0", "type": "quantitative", "scale": {"domain": [0, 1000]}, "axis": {"title": "Frequency (Hz)", "values": [0,50,100,150,200,250,300,350,400,450,500,550,600,650,700,750,800,850,900,950,1000], "format": "d", "labelExpr": "datum.value % 200 == 0 ? datum.label : ''"}}, "y2": {"field": "f1"}}},
   {"data": {"name": "blips"}, "transform": [{"filter": "datum.p == 8"}], "mark": {"type": "rect"},
    "encoding": {"x": {"field": "t0", "type": "quantitative", "axis": {"title": null, "values": [0,1,2,3,4,5,6,7,8,9,10,11,12,13,14,15,16,17,18,19,20,21,22,23,24,25,26,27,28,29,30,31,32,33,34,35,36,37,38,39,40,41,42,43,44,45,46,47,48,49,50,51,52,53,54,55,56,57,58,59,60], "labels": false, "tickSize": 2, "domain": false}}, "x2": {"field": "t1"},
     "y": {"field": "f0", "type": "quantitative", "axis": {"orient": "right", "title": null, "values": [0,50,100,150,200,250,300,350,400,450,500,550,600,650,700,750,800,850,900,950,1000]}}, "y2": {"field": "f1"},
     "color": {"field": "c", "type": "nominal", "legend": null, "scale": {"domain": ["b","a","c","g","y","o","r"], "range": ["#0000ff","#1478ff","#00e0ff","#40ffa0","#ffff00","#ff9900","#ff0000"]}}}},
   {"data": {"name": "panels"}, "transform": [{"filter": "datum.p == 8"}], "mark": {"type": "text", "align": "left", "baseline": "middle", "fontSize": 9.5, "color": "#c0c0c0"},
    "encoding": {"x": {"datum": -4.8, "type": "quantitative", "axis": null}, "y": {"datum": 897, "type": "quantitative", "axis": null}, "text": {"field": "label"}}},
   {"data": {"name": "events"}, "transform": [{"filter": "datum.p == 8"}], "mark": {"type": "text", "baseline": "middle", "dy": 4.6, "fontSize": 6.7, "color": "white"},
    "encoding": {"x": {"field": "t", "type": "quantitative", "axis": null}, "y": {"datum": 0, "type": "quantitative", "axis": null}, "text": {"field": "n"}}},
   {"data": {"name": "events"}, "transform": [{"filter": "datum.p == 8"}], "mark": {"type": "text", "baseline": "middle", "dy": 12, "fontSize": 6.7, "color": "white"},
    "encoding": {"x": {"field": "t", "type": "quantitative", "axis": null}, "y": {"datum": 0, "type": "quantitative", "axis": null}, "text": {"field": "v"}}}
  ]},
 {"width": 610, "height": 163.9, "resolve": {"axis": {"x": "independent", "y": "independent"}},
  "layer": [
   {"data": {"name": "gray"}, "transform": [{"filter": "datum.p == 9"}], "mark": {"type": "rect", "color": "#555555"},
    "encoding": {"x": {"field": "t0", "type": "quantitative", "scale": {"domain": [0, 60]}, "axis": {"title": null, "values": [0,5,10,15,20,25,30,35,40,45,50,55,60], "labelExpr": "datum.value == 0 ? ['11:06:00','4','Jan','2020'] : datum.value == 60 ? '7:00' : datum.label"}}, "x2": {"field": "t1"},
     "y": {"field": "f0", "type": "quantitative", "scale": {"domain": [0, 1000]}, "axis": {"title": "Frequency (Hz)", "values": [0,50,100,150,200,250,300,350,400,450,500,550,600,650,700,750,800,850,900,950,1000], "format": "d", "labelExpr": "datum.value % 200 == 0 ? datum.label : ''"}}, "y2": {"field": "f1"}}},
   {"data": {"name": "blips"}, "transform": [{"filter": "datum.p == 9"}], "mark": {"type": "rect"},
    "encoding": {"x": {"field": "t0", "type": "quantitative", "axis": {"title": null, "values": [0,1,2,3,4,5,6,7,8,9,10,11,12,13,14,15,16,17,18,19,20,21,22,23,24,25,26,27,28,29,30,31,32,33,34,35,36,37,38,39,40,41,42,43,44,45,46,47,48,49,50,51,52,53,54,55,56,57,58,59,60], "labels": false, "tickSize": 2, "domain": false}}, "x2": {"field": "t1"},
     "y": {"field": "f0", "type": "quantitative", "axis": {"orient": "right", "title": null, "values": [0,50,100,150,200,250,300,350,400,450,500,550,600,650,700,750,800,850,900,950,1000]}}, "y2": {"field": "f1"},
     "color": {"field": "c", "type": "nominal", "legend": null, "scale": {"domain": ["b","a","c","g","y","o","r"], "range": ["#0000ff","#1478ff","#00e0ff","#40ffa0","#ffff00","#ff9900","#ff0000"]}}}},
   {"data": {"name": "panels"}, "transform": [{"filter": "datum.p == 9"}], "mark": {"type": "text", "align": "left", "baseline": "middle", "fontSize": 9.5, "color": "#c0c0c0"},
    "encoding": {"x": {"datum": -4.8, "type": "quantitative", "axis": null}, "y": {"datum": 897, "type": "quantitative", "axis": null}, "text": {"field": "label"}}},
   {"data": {"name": "events"}, "transform": [{"filter": "datum.p == 9"}], "mark": {"type": "text", "baseline": "middle", "dy": 4.6, "fontSize": 6.7, "color": "white"},
    "encoding": {"x": {"field": "t", "type": "quantitative", "axis": null}, "y": {"datum": 0, "type": "quantitative", "axis": null}, "text": {"field": "n"}}},
   {"data": {"name": "events"}, "transform": [{"filter": "datum.p == 9"}], "mark": {"type": "text", "baseline": "middle", "dy": 12, "fontSize": 6.7, "color": "white"},
    "encoding": {"x": {"field": "t", "type": "quantitative", "axis": null}, "y": {"datum": 0, "type": "quantitative", "axis": null}, "text": {"field": "v"}}}
  ]},
 {"width": 610, "height": 163.9, "resolve": {"axis": {"x": "independent", "y": "independent"}},
  "layer": [
   {"data": {"name": "gray"}, "transform": [{"filter": "datum.p == 10"}], "mark": {"type": "rect", "color": "#555555"},
    "encoding": {"x": {"field": "t0", "type": "quantitative", "scale": {"domain": [0, 60]}, "axis": {"title": null, "values": [0,5,10,15,20,25,30,35,40,45,50,55,60], "labelExpr": "datum.value == 0 ? ['11:07:00','4','Jan','2020'] : datum.value == 60 ? '8:00' : datum.label"}}, "x2": {"field": "t1"},
     "y": {"field": "f0", "type": "quantitative", "scale": {"domain": [0, 1000]}, "axis": {"title": "Frequency (Hz)", "values": [0,50,100,150,200,250,300,350,400,450,500,550,600,650,700,750,800,850,900,950,1000], "format": "d", "labelExpr": "datum.value % 200 == 0 ? datum.label : ''"}}, "y2": {"field": "f1"}}},
   {"data": {"name": "blips"}, "transform": [{"filter": "datum.p == 10"}], "mark": {"type": "rect"},
    "encoding": {"x": {"field": "t0", "type": "quantitative", "axis": {"title": null, "values": [0,1,2,3,4,5,6,7,8,9,10,11,12,13,14,15,16,17,18,19,20,21,22,23,24,25,26,27,28,29,30,31,32,33,34,35,36,37,38,39,40,41,42,43,44,45,46,47,48,49,50,51,52,53,54,55,56,57,58,59,60], "labels": false, "tickSize": 2, "domain": false}}, "x2": {"field": "t1"},
     "y": {"field": "f0", "type": "quantitative", "axis": {"orient": "right", "title": null, "values": [0,50,100,150,200,250,300,350,400,450,500,550,600,650,700,750,800,850,900,950,1000]}}, "y2": {"field": "f1"},
     "color": {"field": "c", "type": "nominal", "legend": null, "scale": {"domain": ["b","a","c","g","y","o","r"], "range": ["#0000ff","#1478ff","#00e0ff","#40ffa0","#ffff00","#ff9900","#ff0000"]}}}},
   {"data": {"name": "panels"}, "transform": [{"filter": "datum.p == 10"}], "mark": {"type": "text", "align": "left", "baseline": "middle", "fontSize": 9.5, "color": "#c0c0c0"},
    "encoding": {"x": {"datum": -4.8, "type": "quantitative", "axis": null}, "y": {"datum": 897, "type": "quantitative", "axis": null}, "text": {"field": "label"}}},
   {"data": {"name": "events"}, "transform": [{"filter": "datum.p == 10"}], "mark": {"type": "text", "baseline": "middle", "dy": 4.6, "fontSize": 6.7, "color": "white"},
    "encoding": {"x": {"field": "t", "type": "quantitative", "axis": null}, "y": {"datum": 0, "type": "quantitative", "axis": null}, "text": {"field": "n"}}},
   {"data": {"name": "events"}, "transform": [{"filter": "datum.p == 10"}], "mark": {"type": "text", "baseline": "middle", "dy": 12, "fontSize": 6.7, "color": "white"},
    "encoding": {"x": {"field": "t", "type": "quantitative", "axis": null}, "y": {"datum": 0, "type": "quantitative", "axis": null}, "text": {"field": "v"}}}
  ]},
 {"width": 610, "height": 163.9, "resolve": {"axis": {"x": "independent", "y": "independent"}},
  "layer": [
   {"data": {"name": "gray"}, "transform": [{"filter": "datum.p == 11"}], "mark": {"type": "rect", "color": "#555555"},
    "encoding": {"x": {"field": "t0", "type": "quantitative", "scale": {"domain": [0, 60]}, "axis": {"title": null, "values": [0,5,10,15,20,25,30,35,40,45,50,55,60], "labelExpr": "datum.value == 0 ? ['11:08:00','4','Jan','2020'] : datum.value == 60 ? '9:00' : datum.label"}}, "x2": {"field": "t1"},
     "y": {"field": "f0", "type": "quantitative", "scale": {"domain": [0, 1000]}, "axis": {"title": "Frequency (Hz)", "values": [0,50,100,150,200,250,300,350,400,450,500,550,600,650,700,750,800,850,900,950,1000], "format": "d", "labelExpr": "datum.value % 200 == 0 ? datum.label : ''"}}, "y2": {"field": "f1"}}},
   {"data": {"name": "blips"}, "transform": [{"filter": "datum.p == 11"}], "mark": {"type": "rect"},
    "encoding": {"x": {"field": "t0", "type": "quantitative", "axis": {"title": null, "values": [0,1,2,3,4,5,6,7,8,9,10,11,12,13,14,15,16,17,18,19,20,21,22,23,24,25,26,27,28,29,30,31,32,33,34,35,36,37,38,39,40,41,42,43,44,45,46,47,48,49,50,51,52,53,54,55,56,57,58,59,60], "labels": false, "tickSize": 2, "domain": false}}, "x2": {"field": "t1"},
     "y": {"field": "f0", "type": "quantitative", "axis": {"orient": "right", "title": null, "values": [0,50,100,150,200,250,300,350,400,450,500,550,600,650,700,750,800,850,900,950,1000]}}, "y2": {"field": "f1"},
     "color": {"field": "c", "type": "nominal", "legend": null, "scale": {"domain": ["b","a","c","g","y","o","r"], "range": ["#0000ff","#1478ff","#00e0ff","#40ffa0","#ffff00","#ff9900","#ff0000"]}}}},
   {"data": {"name": "panels"}, "transform": [{"filter": "datum.p == 11"}], "mark": {"type": "text", "align": "left", "baseline": "middle", "fontSize": 9.5, "color": "#c0c0c0"},
    "encoding": {"x": {"datum": -4.8, "type": "quantitative", "axis": null}, "y": {"datum": 897, "type": "quantitative", "axis": null}, "text": {"field": "label"}}},
   {"data": {"name": "events"}, "transform": [{"filter": "datum.p == 11"}], "mark": {"type": "text", "baseline": "middle", "dy": 4.6, "fontSize": 6.7, "color": "white"},
    "encoding": {"x": {"field": "t", "type": "quantitative", "axis": null}, "y": {"datum": 0, "type": "quantitative", "axis": null}, "text": {"field": "n"}}},
   {"data": {"name": "events"}, "transform": [{"filter": "datum.p == 11"}], "mark": {"type": "text", "baseline": "middle", "dy": 12, "fontSize": 6.7, "color": "white"},
    "encoding": {"x": {"field": "t", "type": "quantitative", "axis": null}, "y": {"datum": 0, "type": "quantitative", "axis": null}, "text": {"field": "v"}}}
  ]},
 {"width": 610, "height": 163.9, "resolve": {"axis": {"x": "independent", "y": "independent"}},
  "layer": [
   {"data": {"name": "gray"}, "transform": [{"filter": "datum.p == 12"}], "mark": {"type": "rect", "color": "#555555"},
    "encoding": {"x": {"field": "t0", "type": "quantitative", "scale": {"domain": [0, 60]}, "axis": {"title": null, "values": [0,5,10,15,20,25,30,35,40,45,50,55,60], "labelExpr": "datum.value == 0 ? ['11:09:00','4','Jan','2020'] : datum.value == 60 ? '10:00' : datum.label"}}, "x2": {"field": "t1"},
     "y": {"field": "f0", "type": "quantitative", "scale": {"domain": [0, 1000]}, "axis": {"title": "Frequency (Hz)", "values": [0,50,100,150,200,250,300,350,400,450,500,550,600,650,700,750,800,850,900,950,1000], "format": "d", "labelExpr": "datum.value % 200 == 0 ? datum.label : ''"}}, "y2": {"field": "f1"}}},
   {"data": {"name": "blips"}, "transform": [{"filter": "datum.p == 12"}], "mark": {"type": "rect"},
    "encoding": {"x": {"field": "t0", "type": "quantitative", "axis": {"title": null, "values": [0,1,2,3,4,5,6,7,8,9,10,11,12,13,14,15,16,17,18,19,20,21,22,23,24,25,26,27,28,29,30,31,32,33,34,35,36,37,38,39,40,41,42,43,44,45,46,47,48,49,50,51,52,53,54,55,56,57,58,59,60], "labels": false, "tickSize": 2, "domain": false}}, "x2": {"field": "t1"},
     "y": {"field": "f0", "type": "quantitative", "axis": {"orient": "right", "title": null, "values": [0,50,100,150,200,250,300,350,400,450,500,550,600,650,700,750,800,850,900,950,1000]}}, "y2": {"field": "f1"},
     "color": {"field": "c", "type": "nominal", "legend": null, "scale": {"domain": ["b","a","c","g","y","o","r"], "range": ["#0000ff","#1478ff","#00e0ff","#40ffa0","#ffff00","#ff9900","#ff0000"]}}}},
   {"data": {"name": "panels"}, "transform": [{"filter": "datum.p == 12"}], "mark": {"type": "text", "align": "left", "baseline": "middle", "fontSize": 9.5, "color": "#c0c0c0"},
    "encoding": {"x": {"datum": -4.8, "type": "quantitative", "axis": null}, "y": {"datum": 897, "type": "quantitative", "axis": null}, "text": {"field": "label"}}},
   {"data": {"name": "events"}, "transform": [{"filter": "datum.p == 12"}], "mark": {"type": "text", "baseline": "middle", "dy": 4.6, "fontSize": 6.7, "color": "white"},
    "encoding": {"x": {"field": "t", "type": "quantitative", "axis": null}, "y": {"datum": 0, "type": "quantitative", "axis": null}, "text": {"field": "n"}}},
   {"data": {"name": "events"}, "transform": [{"filter": "datum.p == 12"}], "mark": {"type": "text", "baseline": "middle", "dy": 12, "fontSize": 6.7, "color": "white"},
    "encoding": {"x": {"field": "t", "type": "quantitative", "axis": null}, "y": {"datum": 0, "type": "quantitative", "axis": null}, "text": {"field": "v"}}}
  ]},
 {"width": 610, "height": 163.9, "resolve": {"axis": {"x": "independent", "y": "independent"}},
  "layer": [
   {"data": {"name": "gray"}, "transform": [{"filter": "datum.p == 13"}], "mark": {"type": "rect", "color": "#555555"},
    "encoding": {"x": {"field": "t0", "type": "quantitative", "scale": {"domain": [0, 60]}, "axis": {"title": null, "values": [0,5,10,15,20,25,30,35,40,45,50,55,60], "labelExpr": "datum.value == 0 ? ['11:10:00','4','Jan','2020'] : datum.value == 60 ? '11:00' : datum.label"}}, "x2": {"field": "t1"},
     "y": {"field": "f0", "type": "quantitative", "scale": {"domain": [0, 1000]}, "axis": {"title": "Frequency (Hz)", "values": [0,50,100,150,200,250,300,350,400,450,500,550,600,650,700,750,800,850,900,950,1000], "format": "d", "labelExpr": "datum.value % 200 == 0 ? datum.label : ''"}}, "y2": {"field": "f1"}}},
   {"data": {"name": "blips"}, "transform": [{"filter": "datum.p == 13"}], "mark": {"type": "rect"},
    "encoding": {"x": {"field": "t0", "type": "quantitative", "axis": {"title": null, "values": [0,1,2,3,4,5,6,7,8,9,10,11,12,13,14,15,16,17,18,19,20,21,22,23,24,25,26,27,28,29,30,31,32,33,34,35,36,37,38,39,40,41,42,43,44,45,46,47,48,49,50,51,52,53,54,55,56,57,58,59,60], "labels": false, "tickSize": 2, "domain": false}}, "x2": {"field": "t1"},
     "y": {"field": "f0", "type": "quantitative", "axis": {"orient": "right", "title": null, "values": [0,50,100,150,200,250,300,350,400,450,500,550,600,650,700,750,800,850,900,950,1000]}}, "y2": {"field": "f1"},
     "color": {"field": "c", "type": "nominal", "legend": null, "scale": {"domain": ["b","a","c","g","y","o","r"], "range": ["#0000ff","#1478ff","#00e0ff","#40ffa0","#ffff00","#ff9900","#ff0000"]}}}},
   {"data": {"name": "panels"}, "transform": [{"filter": "datum.p == 13"}], "mark": {"type": "text", "align": "left", "baseline": "middle", "fontSize": 9.5, "color": "#c0c0c0"},
    "encoding": {"x": {"datum": -4.8, "type": "quantitative", "axis": null}, "y": {"datum": 897, "type": "quantitative", "axis": null}, "text": {"field": "label"}}},
   {"data": {"name": "events"}, "transform": [{"filter": "datum.p == 13"}], "mark": {"type": "text", "baseline": "middle", "dy": 4.6, "fontSize": 6.7, "color": "white"},
    "encoding": {"x": {"field": "t", "type": "quantitative", "axis": null}, "y": {"datum": 0, "type": "quantitative", "axis": null}, "text": {"field": "n"}}},
   {"data": {"name": "events"}, "transform": [{"filter": "datum.p == 13"}], "mark": {"type": "text", "baseline": "middle", "dy": 12, "fontSize": 6.7, "color": "white"},
    "encoding": {"x": {"field": "t", "type": "quantitative", "axis": null}, "y": {"datum": 0, "type": "quantitative", "axis": null}, "text": {"field": "v"}}}
  ]},
 {"width": 610, "height": 163.9, "resolve": {"axis": {"x": "independent", "y": "independent"}},
  "layer": [
   {"data": {"name": "gray"}, "transform": [{"filter": "datum.p == 14"}], "mark": {"type": "rect", "color": "#555555"},
    "encoding": {"x": {"field": "t0", "type": "quantitative", "scale": {"domain": [0, 60]}, "axis": {"title": null, "values": [0,5,10,15,20,25,30,35,40,45,50,55,60], "labelExpr": "datum.value == 0 ? ['11:11:00','4','Jan','2020'] : datum.value == 60 ? '12:00' : datum.label"}}, "x2": {"field": "t1"},
     "y": {"field": "f0", "type": "quantitative", "scale": {"domain": [0, 1000]}, "axis": {"title": "Frequency (Hz)", "values": [0,50,100,150,200,250,300,350,400,450,500,550,600,650,700,750,800,850,900,950,1000], "format": "d", "labelExpr": "datum.value % 200 == 0 ? datum.label : ''"}}, "y2": {"field": "f1"}}},
   {"data": {"name": "blips"}, "transform": [{"filter": "datum.p == 14"}], "mark": {"type": "rect"},
    "encoding": {"x": {"field": "t0", "type": "quantitative", "axis": {"title": null, "values": [0,1,2,3,4,5,6,7,8,9,10,11,12,13,14,15,16,17,18,19,20,21,22,23,24,25,26,27,28,29,30,31,32,33,34,35,36,37,38,39,40,41,42,43,44,45,46,47,48,49,50,51,52,53,54,55,56,57,58,59,60], "labels": false, "tickSize": 2, "domain": false}}, "x2": {"field": "t1"},
     "y": {"field": "f0", "type": "quantitative", "axis": {"orient": "right", "title": null, "values": [0,50,100,150,200,250,300,350,400,450,500,550,600,650,700,750,800,850,900,950,1000]}}, "y2": {"field": "f1"},
     "color": {"field": "c", "type": "nominal", "legend": null, "scale": {"domain": ["b","a","c","g","y","o","r"], "range": ["#0000ff","#1478ff","#00e0ff","#40ffa0","#ffff00","#ff9900","#ff0000"]}}}},
   {"data": {"name": "panels"}, "transform": [{"filter": "datum.p == 14"}], "mark": {"type": "text", "align": "left", "baseline": "middle", "fontSize": 9.5, "color": "#c0c0c0"},
    "encoding": {"x": {"datum": -4.8, "type": "quantitative", "axis": null}, "y": {"datum": 897, "type": "quantitative", "axis": null}, "text": {"field": "label"}}},
   {"data": {"name": "events"}, "transform": [{"filter": "datum.p == 14"}], "mark": {"type": "text", "baseline": "middle", "dy": 4.6, "fontSize": 6.7, "color": "white"},
    "encoding": {"x": {"field": "t", "type": "quantitative", "axis": null}, "y": {"datum": 0, "type": "quantitative", "axis": null}, "text": {"field": "n"}}},
   {"data": {"name": "events"}, "transform": [{"filter": "datum.p == 14"}], "mark": {"type": "text", "baseline": "middle", "dy": 12, "fontSize": 6.7, "color": "white"},
    "encoding": {"x": {"field": "t", "type": "quantitative", "axis": null}, "y": {"datum": 0, "type": "quantitative", "axis": null}, "text": {"field": "v"}}}
  ]},
 {"width": 610, "height": 163.9, "resolve": {"axis": {"x": "independent", "y": "independent"}},
  "layer": [
   {"data": {"name": "gray"}, "transform": [{"filter": "datum.p == 15"}], "mark": {"type": "rect", "color": "#555555"},
    "encoding": {"x": {"field": "t0", "type": "quantitative", "scale": {"domain": [0, 60]}, "axis": {"title": null, "values": [0,5,10,15,20,25,30,35,40,45,50,55,60], "labelExpr": "datum.value == 0 ? ['11:12:00','4','Jan','2020'] : datum.value == 60 ? '13:00' : datum.label"}}, "x2": {"field": "t1"},
     "y": {"field": "f0", "type": "quantitative", "scale": {"domain": [0, 1000]}, "axis": {"title": "Frequency (Hz)", "values": [0,50,100,150,200,250,300,350,400,450,500,550,600,650,700,750,800,850,900,950,1000], "format": "d", "labelExpr": "datum.value % 200 == 0 ? datum.label : ''"}}, "y2": {"field": "f1"}}},
   {"data": {"name": "blips"}, "transform": [{"filter": "datum.p == 15"}], "mark": {"type": "rect"},
    "encoding": {"x": {"field": "t0", "type": "quantitative", "axis": {"title": null, "values": [0,1,2,3,4,5,6,7,8,9,10,11,12,13,14,15,16,17,18,19,20,21,22,23,24,25,26,27,28,29,30,31,32,33,34,35,36,37,38,39,40,41,42,43,44,45,46,47,48,49,50,51,52,53,54,55,56,57,58,59,60], "labels": false, "tickSize": 2, "domain": false}}, "x2": {"field": "t1"},
     "y": {"field": "f0", "type": "quantitative", "axis": {"orient": "right", "title": null, "values": [0,50,100,150,200,250,300,350,400,450,500,550,600,650,700,750,800,850,900,950,1000]}}, "y2": {"field": "f1"},
     "color": {"field": "c", "type": "nominal", "legend": null, "scale": {"domain": ["b","a","c","g","y","o","r"], "range": ["#0000ff","#1478ff","#00e0ff","#40ffa0","#ffff00","#ff9900","#ff0000"]}}}},
   {"data": {"name": "panels"}, "transform": [{"filter": "datum.p == 15"}], "mark": {"type": "text", "align": "left", "baseline": "middle", "fontSize": 9.5, "color": "#c0c0c0"},
    "encoding": {"x": {"datum": -4.8, "type": "quantitative", "axis": null}, "y": {"datum": 897, "type": "quantitative", "axis": null}, "text": {"field": "label"}}}
  ]},
 {"width": 610, "height": 163.9, "resolve": {"axis": {"x": "independent", "y": "independent"}},
  "layer": [
   {"data": {"name": "gray"}, "transform": [{"filter": "datum.p == 16"}], "mark": {"type": "rect", "color": "#555555"},
    "encoding": {"x": {"field": "t0", "type": "quantitative", "scale": {"domain": [0, 60]}, "axis": {"title": null, "values": [0,5,10,15,20,25,30,35,40,45,50,55,60], "labelExpr": "datum.value == 0 ? ['11:13:00','4','Jan','2020'] : datum.value == 60 ? '14:00' : datum.label"}}, "x2": {"field": "t1"},
     "y": {"field": "f0", "type": "quantitative", "scale": {"domain": [0, 1000]}, "axis": {"title": "Frequency (Hz)", "values": [0,50,100,150,200,250,300,350,400,450,500,550,600,650,700,750,800,850,900,950,1000], "format": "d", "labelExpr": "datum.value % 200 == 0 ? datum.label : ''"}}, "y2": {"field": "f1"}}},
   {"data": {"name": "blips"}, "transform": [{"filter": "datum.p == 16"}], "mark": {"type": "rect"},
    "encoding": {"x": {"field": "t0", "type": "quantitative", "axis": {"title": null, "values": [0,1,2,3,4,5,6,7,8,9,10,11,12,13,14,15,16,17,18,19,20,21,22,23,24,25,26,27,28,29,30,31,32,33,34,35,36,37,38,39,40,41,42,43,44,45,46,47,48,49,50,51,52,53,54,55,56,57,58,59,60], "labels": false, "tickSize": 2, "domain": false}}, "x2": {"field": "t1"},
     "y": {"field": "f0", "type": "quantitative", "axis": {"orient": "right", "title": null, "values": [0,50,100,150,200,250,300,350,400,450,500,550,600,650,700,750,800,850,900,950,1000]}}, "y2": {"field": "f1"},
     "color": {"field": "c", "type": "nominal", "legend": null, "scale": {"domain": ["b","a","c","g","y","o","r"], "range": ["#0000ff","#1478ff","#00e0ff","#40ffa0","#ffff00","#ff9900","#ff0000"]}}}},
   {"data": {"name": "panels"}, "transform": [{"filter": "datum.p == 16"}], "mark": {"type": "text", "align": "left", "baseline": "middle", "fontSize": 9.5, "color": "#c0c0c0"},
    "encoding": {"x": {"datum": -4.8, "type": "quantitative", "axis": null}, "y": {"datum": 897, "type": "quantitative", "axis": null}, "text": {"field": "label"}}}
  ]},
 {"width": 610, "height": 163.9, "resolve": {"axis": {"x": "independent", "y": "independent"}},
  "layer": [
   {"data": {"name": "gray"}, "transform": [{"filter": "datum.p == 17"}], "mark": {"type": "rect", "color": "#555555"},
    "encoding": {"x": {"field": "t0", "type": "quantitative", "scale": {"domain": [0, 60]}, "axis": {"title": null, "values": [0,5,10,15,20,25,30,35,40,45,50,55,60], "labelExpr": "datum.value == 0 ? ['11:14:00','4','Jan','2020'] : datum.value == 60 ? '15:00' : datum.label"}}, "x2": {"field": "t1"},
     "y": {"field": "f0", "type": "quantitative", "scale": {"domain": [0, 1000]}, "axis": {"title": "Frequency (Hz)", "values": [0,50,100,150,200,250,300,350,400,450,500,550,600,650,700,750,800,850,900,950,1000], "format": "d", "labelExpr": "datum.value % 200 == 0 ? datum.label : ''"}}, "y2": {"field": "f1"}}},
   {"data": {"name": "blips"}, "transform": [{"filter": "datum.p == 17"}], "mark": {"type": "rect"},
    "encoding": {"x": {"field": "t0", "type": "quantitative", "axis": {"title": null, "values": [0,1,2,3,4,5,6,7,8,9,10,11,12,13,14,15,16,17,18,19,20,21,22,23,24,25,26,27,28,29,30,31,32,33,34,35,36,37,38,39,40,41,42,43,44,45,46,47,48,49,50,51,52,53,54,55,56,57,58,59,60], "labels": false, "tickSize": 2, "domain": false}}, "x2": {"field": "t1"},
     "y": {"field": "f0", "type": "quantitative", "axis": {"orient": "right", "title": null, "values": [0,50,100,150,200,250,300,350,400,450,500,550,600,650,700,750,800,850,900,950,1000]}}, "y2": {"field": "f1"},
     "color": {"field": "c", "type": "nominal", "legend": null, "scale": {"domain": ["b","a","c","g","y","o","r"], "range": ["#0000ff","#1478ff","#00e0ff","#40ffa0","#ffff00","#ff9900","#ff0000"]}}}},
   {"data": {"name": "panels"}, "transform": [{"filter": "datum.p == 17"}], "mark": {"type": "text", "align": "left", "baseline": "middle", "fontSize": 9.5, "color": "#c0c0c0"},
    "encoding": {"x": {"datum": -4.8, "type": "quantitative", "axis": null}, "y": {"datum": 897, "type": "quantitative", "axis": null}, "text": {"field": "label"}}}
  ]}
]
}
